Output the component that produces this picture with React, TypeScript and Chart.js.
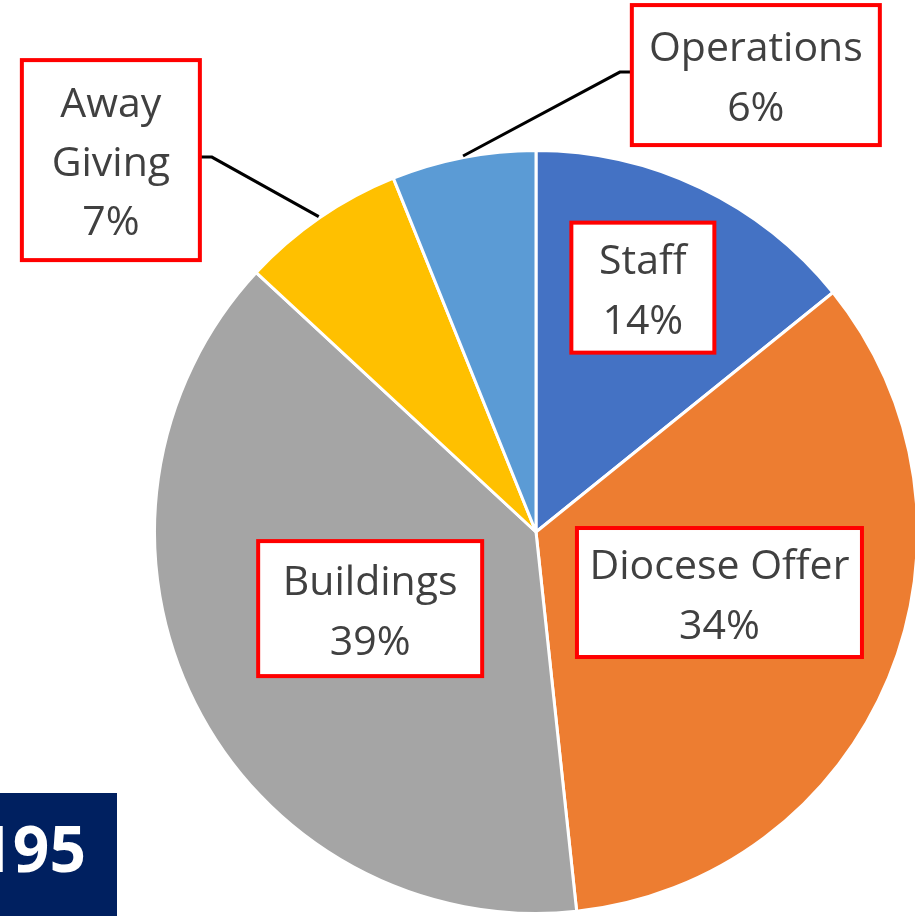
import React, { useEffect, useRef } from "react";
import { Chart, registerables } from "chart.js";

Chart.register(...registerables);

const categories = ["Staff", "Diocese Offer", "Buildings", "Away Giving", "Operations"];
const values = [14.2, 34.1, 38.6, 7.0, 6.1];
const percentLabels = ["14%", "34%", "39%", "7%", "6%"];
const labelLines = [["Staff"], ["Diocese Offer"], ["Buildings"], ["Away", "Giving"], ["Operations"]];
const colors = ["#4472C4", "#ED7D31", "#A5A5A5", "#FFC000", "#5B9BD5"];

// label box layout (offsets in units of pie radius, sizes in px)
const boxLayout = [
  { dx: 0.279, dy: -0.638, w: 143, h: 130, leader: 0 },
  { dx: 0.479, dy: 0.158, w: 285, h: 129, leader: 0 },
  { dx: -0.433, dy: 0.2, w: 224, h: 135, leader: 0 },
  { dx: -1.11, dy: -0.971, w: 178, h: 200, leader: 1 },
  { dx: 0.574, dy: -1.193, w: 248, h: 140, leader: -1 },
];

const FONT = '"Open Sans", "Noto Sans", sans-serif';

const labelPlugin = {
  id: "boxLabels",
  afterDatasetsDraw(chart: any) {
    const ctx = chart.ctx;
    const meta = chart.getDatasetMeta(0);
    meta.data.forEach((arc: any, i: number) => {
      const { x, y, startAngle, endAngle, outerRadius } = arc.getProps(
        ["x", "y", "startAngle", "endAngle", "outerRadius"],
        true
      );
      const R = outerRadius + 1.5;
      const lay = boxLayout[i];
      const cx = x + lay.dx * R;
      const cy = y + lay.dy * R;
      const left = cx - lay.w / 2;
      const right = cx + lay.w / 2;
      const top = cy - lay.h / 2;
      ctx.save();
      if (lay.leader !== 0) {
        const mid = (startAngle + endAngle) / 2;
        const sx = x + Math.cos(mid) * R;
        const sy = y + Math.sin(mid) * R;
        const edgeX = lay.leader > 0 ? right : left;
        const elbowX = lay.leader > 0 ? right + 12 : left - 12;
        const ey = cy - 3;
        ctx.beginPath();
        ctx.moveTo(sx, sy);
        ctx.lineTo(elbowX, ey);
        ctx.lineTo(edgeX, ey);
        ctx.strokeStyle = "#000000";
        ctx.lineWidth = 3;
        ctx.stroke();
      }
      ctx.fillStyle = "#FFFFFF";
      ctx.fillRect(left, top, lay.w, lay.h);
      ctx.strokeStyle = "#FF0000";
      ctx.lineWidth = 4;
      ctx.strokeRect(left, top, lay.w, lay.h);
      const lines = [...labelLines[i], percentLabels[i]];
      const lh = lines.length > 2 ? 59 : 60;
      ctx.fillStyle = "#404040";
      ctx.font = `41px ${FONT}`;
      ctx.textAlign = "center";
      ctx.textBaseline = "alphabetic";
      const first = cy - ((lines.length - 1) * lh) / 2 + 16;
      lines.forEach((t, k) => ctx.fillText(t, cx, first + k * lh));
      ctx.restore();
    });
  },
};

export default function App() {
  const ref = useRef<HTMLCanvasElement | null>(null);
  useEffect(() => {
    let chart: Chart | null = null;
    let cancelled = false;
    const make = () => {
      if (cancelled || !ref.current) return;
      chart = new Chart(ref.current, {
        type: "pie",
        data: {
          labels: categories,
          datasets: [
            {
              data: values,
              backgroundColor: colors,
              borderColor: "#FFFFFF",
              borderWidth: 3,
            },
          ],
        },
        options: {
          responsive: false,
          animation: false,
          layout: { padding: { left: 153, right: 153, top: 149, bottom: 1 } },
          plugins: {
            legend: { display: false },
            tooltip: { enabled: false },
          },
        },
        plugins: [labelPlugin],
      });
    };
    const fl = (document as any).fonts;
    if (fl && fl.load) {
      Promise.all([fl.load(`41px "Open Sans"`), fl.load(`bold 64px "Open Sans"`)])
        .catch(() => {})
        .then(make);
    } else make();
    return () => {
      cancelled = true;
      if (chart) chart.destroy();
    };
  }, []);

  return (
    <div
      style={{
        position: "fixed",
        left: 0,
        top: 0,
        width: 915,
        height: 916,
        overflow: "hidden",
        background: "#FFFFFF",
      }}
    >
      <canvas
        ref={ref}
        width={1072}
        height={916}
        style={{ position: "absolute", left: 0, top: 0, width: 1072, height: 916 }}
      />
      <div
        style={{
          position: "absolute",
          left: 0,
          top: 793,
          width: 117,
          height: 123,
          background: "#002060",
          overflow: "hidden",
        }}
      >
        <div
          style={{
            position: "absolute",
            right: 31,
            top: 18,
            whiteSpace: "nowrap",
            color: "#FFFFFF",
            fontFamily: FONT,
            fontWeight: 700,
            fontSize: 64,
            lineHeight: "74px",
            textAlign: "right",
          }}
        >
          £195
        </div>
      </div>
    </div>
  );
}
